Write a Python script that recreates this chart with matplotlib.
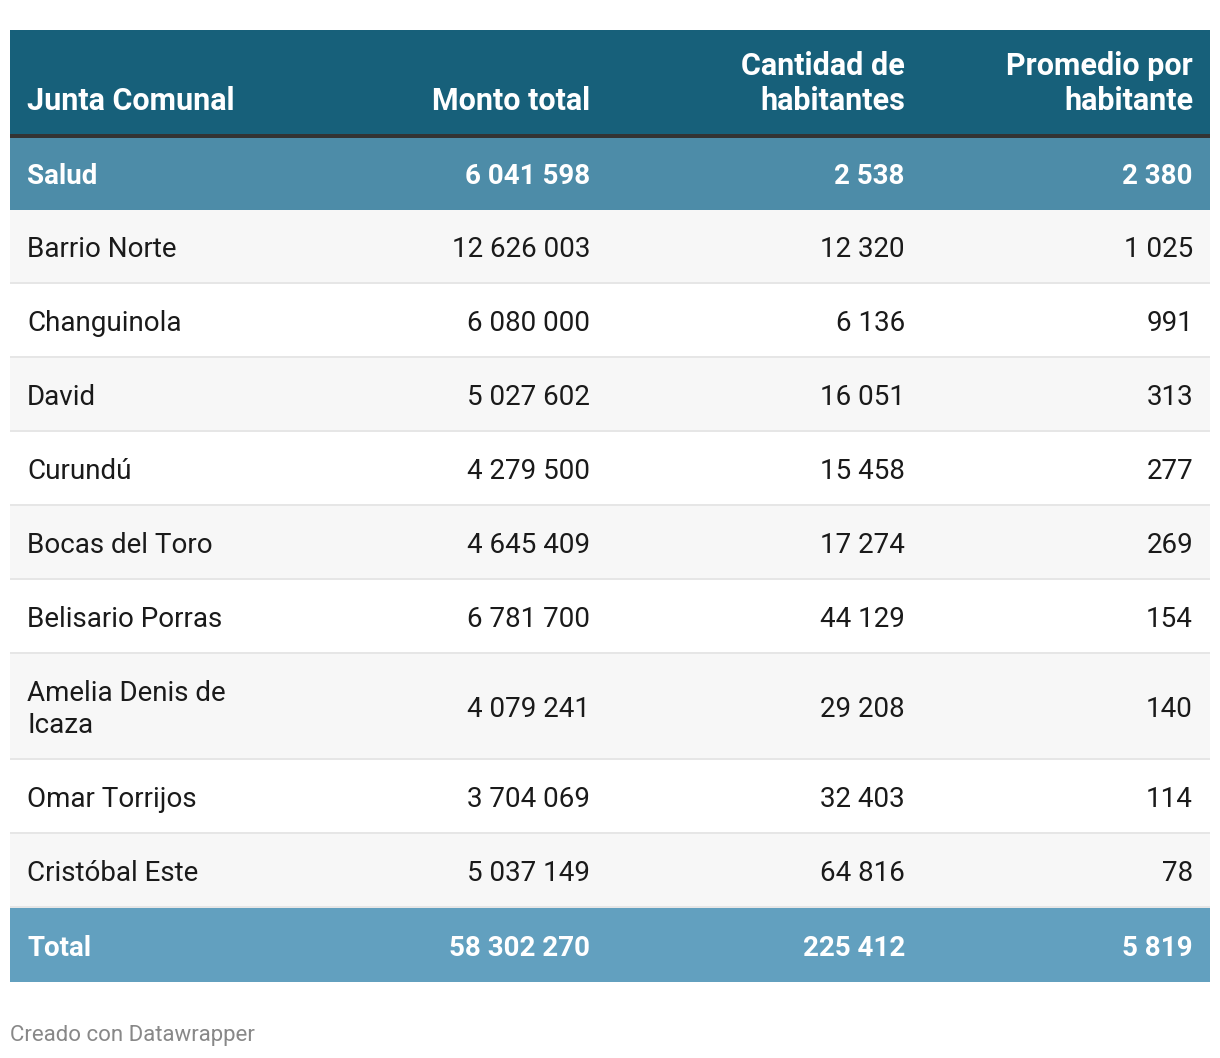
import matplotlib.pyplot as plt
from matplotlib.patches import Rectangle

plt.rcParams['font.family'] = ['Roboto', 'DejaVu Sans']

headers = ['Junta Comunal', 'Monto total', 'Cantidad de\nhabitantes', 'Promedio por\nhabitante']
juntas = ['Barrio Norte', 'Changuinola', 'David', 'Curundú', 'Bocas del Toro',
          'Belisario Porras', 'Amelia Denis de\nIcaza', 'Omar Torrijos', 'Cristóbal Este']
monto = [12626003, 6080000, 5027602, 4279500, 4645409, 6781700, 4079241, 3704069, 5037149]
habitantes = [12320, 6136, 16051, 15458, 17274, 44129, 29208, 32403, 64816]
promedio = [1025, 991, 313, 277, 269, 154, 140, 114, 78]
salud = ['Salud', 6041598, 2538, 2380]
total = ['Total', 58302270, 225412, 5819]


def fmt(v):
    return f'{v:,}'.replace(',', ' ')


W, H = 1220, 1058
fig = plt.figure(figsize=(W / 100, H / 100), dpi=100)
ax = fig.add_axes([0, 0, 1, 1])
ax.set_xlim(0, W)
ax.set_ylim(H, 0)
ax.axis('off')

left, right = 10, 1210
text_x = 27
col_right = [590, 905, 1193]
fs = 20
hfs = 22

header_c = '#17607a'
salud_c = '#4d8ca8'
total_c = '#62a0bf'


def put(x, base, s, ha, step, **kw):
    # draw (possibly multi-line) text; base = baseline of last line
    lines = s.split('\n')
    n = len(lines)
    for k, line in enumerate(lines):
        ax.text(x, base - (n - 1 - k) * step, line, ha=ha, va='baseline', **kw)


def put_mid(x, mid, s, ha, step, cap, **kw):
    # vertically centre block of lines on mid
    n = len(s.split('\n'))
    base = mid + cap / 2 + (n - 1) * step / 2
    put(x, base, s, ha, step, **kw)


# header
ax.add_patch(Rectangle((left, 30), right - left, 104, color=header_c, lw=0))
ax.add_patch(Rectangle((left, 133.5), right - left, 4, color='#333333', lw=0))
put(text_x, 110, headers[0], 'left', 35, color='white', fontsize=hfs, fontweight='bold')
for x, h in zip(col_right, headers[1:]):
    put(x, 110, h, 'right', 35, color='white', fontsize=hfs, fontweight='bold')

cap = 0.711 * fs * 100 / 72

# salud row
y = 137.5
ax.add_patch(Rectangle((left, y), right - left, 72.5, color=salud_c, lw=0))
put_mid(text_x, 174, salud[0], 'left', 32, cap, color='white', fontsize=fs, fontweight='bold')
for x, v in zip(col_right, salud[1:]):
    put_mid(x, 174, fmt(v), 'right', 32, cap, color='white', fontsize=fs, fontweight='bold')
y = 210

# body rows
for i, name in enumerate(juntas):
    h = 106 if '\n' in name else 74
    bg = '#f7f7f7' if i % 2 == 0 else 'white'
    ax.add_patch(Rectangle((left, y), right - left, h, color=bg, lw=0))
    ax.add_patch(Rectangle((left, y + h - 2), right - left, 2, color='#e6e6e6', lw=0))
    cy = y + h / 2 + 0.5
    put_mid(text_x, cy, name, 'left', 32, cap, color='#1a1a1a', fontsize=fs)
    for x, v in zip(col_right, [monto[i], habitantes[i], promedio[i]]):
        put_mid(x, cy, fmt(v), 'right', 32, cap, color='#1a1a1a', fontsize=fs)
    y += h

# total row
ax.add_patch(Rectangle((left, y), right - left, 74, color=total_c, lw=0))
put_mid(text_x, y + 38, total[0], 'left', 32, cap, color='white', fontsize=fs, fontweight='bold')
for x, v in zip(col_right, total[1:]):
    put_mid(x, y + 38, fmt(v), 'right', 32, cap, color='white', fontsize=fs, fontweight='bold')

ax.text(10, 1035, 'Creado con Datawrapper', ha='left', va='center', color='#888888', fontsize=16)

fig.savefig('out.png', dpi=100, facecolor='white')
